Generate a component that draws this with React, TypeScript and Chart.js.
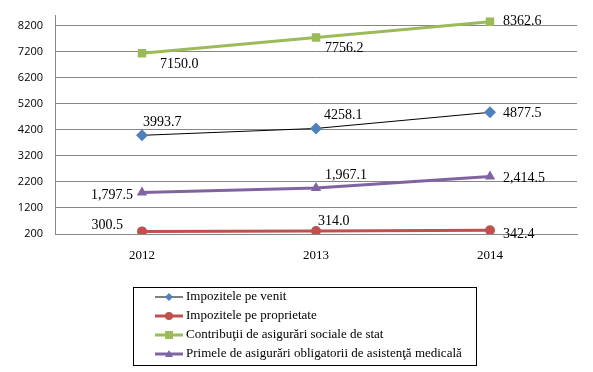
import React, { useEffect, useRef } from "react";
import { Chart, registerables } from "chart.js";

Chart.register(...registerables);

const categories = ["2012", "2013", "2014"];
const venit = [3993.7, 4258.1, 4877.5];
const proprietate = [300.5, 314.0, 342.4];
const contributii = [7150.0, 7756.2, 8362.6];
const primele = [1797.5, 1967.1, 2414.5];
const yTicks = [200, 1200, 2200, 3200, 4200, 5200, 6200, 7200, 8200];
const seriesNames = [
  "Impozitele pe venit",
  "Impozitele pe proprietate",
  "Contribuţii de asigurări sociale de stat",
  "Primele de asigurări obligatorii de asistenţă medicală",
];

// label placement (dx, dy, align) per series per point
const labelPlacement: [number, number, CanvasTextAlign][][] = [
  [[1, -13, "left"], [8, -13, "left"], [13, 1, "left"]],
  [[-19, -6, "right"], [2, -10, "left"], [13, 4, "left"]],
  [[18, 11, "left"], [9, 11, "left"], [13, 0, "left"]],
  [[-9, 3, "right"], [9, -13, "left"], [13, 2, "left"]],
];

const fmtPlain = (v: number) => v.toFixed(1);
const fmtComma = (v: number) =>
  v.toLocaleString("en-US", { minimumFractionDigits: 1, maximumFractionDigits: 1 });
const formatters = [fmtPlain, fmtPlain, fmtPlain, fmtComma];

const SERIF = "'Liberation Serif', 'Times New Roman', serif";

const labelsPlugin = {
  id: "valueLabels",
  afterDatasetsDraw(chart: any) {
    const ctx = chart.ctx;
    ctx.save();
    ctx.font = `14px ${SERIF}`;
    ctx.fillStyle = "#000";
    ctx.textBaseline = "middle";
    chart.data.datasets.forEach((ds: any, i: number) => {
      const meta = chart.getDatasetMeta(i);
      meta.data.forEach((pt: any, j: number) => {
        const [dx, dy, align] = labelPlacement[i][j];
        ctx.textAlign = align;
        ctx.fillText(formatters[i](ds.data[j]), pt.x + dx, pt.y + dy);
      });
    });
    ctx.restore();
  },
};

const legendPlugin = {
  id: "boxLegend",
  afterDraw(chart: any) {
    const ctx = chart.ctx;
    ctx.save();
    const bx = 133, by = 287, bw = 343, bh = 78;
    ctx.strokeStyle = "#000";
    ctx.lineWidth = 1;
    ctx.strokeRect(bx + 0.5, by + 0.5, bw, bh);
    const rows = [297, 316, 335, 354];
    chart.data.datasets.forEach((ds: any, i: number) => {
      const y = rows[i];
      ctx.strokeStyle = ds.borderColor;
      ctx.lineWidth = ds.borderWidth;
      ctx.beginPath();
      ctx.moveTo(155, y);
      ctx.lineTo(183, y);
      ctx.stroke();
      ctx.fillStyle = ds.pointBackgroundColor;
      const style = ds.pointStyle;
      ctx.beginPath();
      if (style === "rectRot") {
        ctx.moveTo(169, y - 4);
        ctx.lineTo(173, y);
        ctx.lineTo(169, y + 4);
        ctx.lineTo(165, y);
        ctx.closePath();
      } else if (style === "circle") {
        ctx.arc(169, y, 4, 0, Math.PI * 2);
      } else if (style === "rect") {
        ctx.rect(165, y - 4, 8, 8);
      } else {
        ctx.moveTo(169, y - 4);
        ctx.lineTo(173, y + 3);
        ctx.lineTo(165, y + 3);
        ctx.closePath();
      }
      ctx.fill();
      ctx.fillStyle = "#000";
      ctx.font = `13px ${SERIF}`;
      ctx.textAlign = "left";
      ctx.textBaseline = "middle";
      ctx.fillText(seriesNames[i], 186, y);
    });
    ctx.restore();
  },
};

export default function App() {
  const ref = useRef<HTMLCanvasElement | null>(null);
  useEffect(() => {
    document.body.style.margin = "0";
    const chart = new Chart(ref.current as HTMLCanvasElement, {
      type: "line",
      data: {
        labels: categories,
        datasets: [
          {
            label: seriesNames[0],
            data: venit,
            borderColor: "#000000",
            borderWidth: 1,
            pointStyle: "rectRot",
            pointRadius: 6,
            pointBackgroundColor: "#4F81BD",
            pointBorderColor: "#4F81BD",
            pointBorderWidth: 0,
          },
          {
            label: seriesNames[1],
            data: proprietate,
            borderColor: "#C0504D",
            borderWidth: 3,
            pointStyle: "circle",
            pointRadius: 5,
            pointBackgroundColor: "#C0504D",
            pointBorderColor: "#C0504D",
            pointBorderWidth: 0,
          },
          {
            label: seriesNames[2],
            data: contributii,
            borderColor: "#9BBB59",
            borderWidth: 3,
            pointStyle: "rect",
            pointRadius: 6,
            pointBackgroundColor: "#9BBB59",
            pointBorderColor: "#9BBB59",
            pointBorderWidth: 0,
          },
          {
            label: seriesNames[3],
            data: primele,
            borderColor: "#8064A2",
            borderWidth: 3,
            pointStyle: "triangle",
            pointRadius: 6,
            pointBackgroundColor: "#8064A2",
            pointBorderColor: "#8064A2",
            pointBorderWidth: 0,
          },
        ],
      },
      options: {
        animation: false,
        responsive: false,
        layout: { padding: { left: 0, right: 16, top: 15, bottom: 0 } },
        plugins: { legend: { display: false }, tooltip: { enabled: false } },
        scales: {
          x: {
            offset: true,
            grid: { display: false, drawTicks: false },
            border: { display: true, color: "#868686", width: 1 },
            ticks: { color: "#000", font: { family: SERIF, size: 13 }, padding: 14 },
            afterFit: (s: any) => {
              s.height = 372 - 234;
              s.paddingLeft = 0;
              s.paddingRight = 0;
            },
          },
          y: {
            min: 200,
            max: 8620,
            grid: { color: "#868686", lineWidth: 1, drawTicks: false },
            border: { display: true, color: "#868686", width: 1 },
            ticks: {
              color: "#000",
              font: { family: "'Open Sans', 'DejaVu Sans', sans-serif", size: 11 },
              padding: 12,
              callback: (v: any) => String(v),
            },
            afterBuildTicks: (s: any) => {
              s.ticks = yTicks.map((v) => ({ value: v }));
            },
            afterFit: (s: any) => {
              s.width = 55;
              s.paddingTop = 0;
              s.paddingBottom = 0;
            },
          },
        },
      },
      plugins: [labelsPlugin, legendPlugin],
    });
    return () => chart.destroy();
  }, []);
  return (
    <div style={{ width: 593, height: 372, background: "#fff" }}>
      <canvas ref={ref} width={593} height={372} style={{ display: "block" }} />
    </div>
  );
}
